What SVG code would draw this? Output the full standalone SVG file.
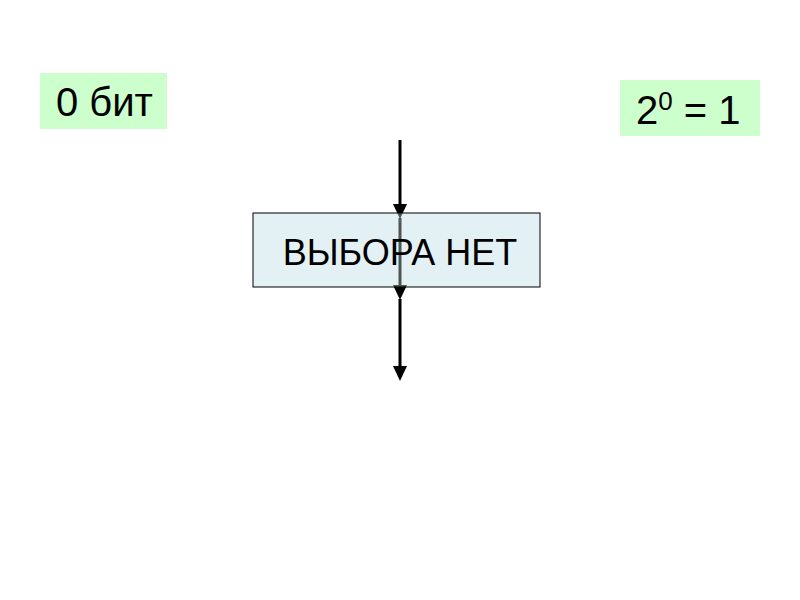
<svg xmlns="http://www.w3.org/2000/svg" width="800" height="600" viewBox="0 0 800 600">
<style>
.t{font-family:"Liberation Sans",Arial,sans-serif;fill:#000}
.g{fill:#ccffcc}
.c{stroke:#000;stroke-width:3;fill:none}
.h{fill:#000}
</style>
<rect width="800" height="600" fill="#fff"/>
<rect id="node-choice-bg" x="253" y="213" width="287" height="74" fill="#e3f2f4"/>
<g id="connectors">
<line class="c" x1="400" y1="140" x2="400" y2="204"/>
<path class="h" d="M393,204 L407,204 L400,219 Z"/>
<line class="c" x1="400" y1="218" x2="400" y2="286"/>
<path class="h" d="M393,285 L407,285 L400,300 Z"/>
<line class="c" x1="400" y1="299" x2="400" y2="367"/>
<path class="h" d="M393,366 L407,366 L400,381 Z"/>
</g>
<g id="node-choice">
<rect x="253" y="213" width="287" height="74" fill="#e3f2f4" fill-opacity="0.35" stroke="#000" stroke-width="1"/>
<text class="t" x="400" y="265" font-size="36" text-anchor="middle">ВЫБОРА НЕТ</text>
</g>
<g id="node-bits">
<rect class="g" x="40" y="73" width="127" height="56"/>
<text class="t" x="56" y="116" font-size="40">0 бит</text>
</g>
<g id="node-count">
<rect class="g" x="620" y="80" width="140" height="56"/>
<text class="t" x="636" y="124" font-size="40">2<tspan font-size="26" dy="-14">0</tspan><tspan dy="14"> = 1</tspan></text>
</g>
</svg>
